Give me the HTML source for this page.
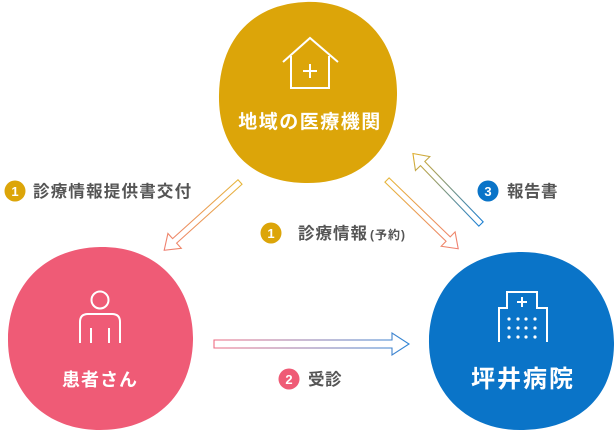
<!DOCTYPE html>
<html><head><meta charset="utf-8"><style>
html,body{margin:0;padding:0;background:#fff;}
body{width:615px;height:430px;overflow:hidden;position:relative;font-family:"Liberation Sans","Noto Sans CJK JP",sans-serif;}
svg{position:absolute;left:0;top:0;}
</style></head><body>
<svg width="615" height="430" viewBox="0 0 615 430" xmlns="http://www.w3.org/2000/svg">
<defs>
<linearGradient id="go" x1="0" y1="0" x2="1" y2="0"><stop offset="0" stop-color="#e6b53a"/><stop offset="1" stop-color="#ef7f72"/></linearGradient>
<linearGradient id="pb" x1="0" y1="0" x2="1" y2="0"><stop offset="0" stop-color="#ee6b82"/><stop offset="1" stop-color="#2f86d6"/></linearGradient>
<linearGradient id="bg" x1="0" y1="0" x2="1" y2="0"><stop offset="0" stop-color="#1b7fd2"/><stop offset="1" stop-color="#e0ae2c"/></linearGradient>
</defs>
<path d="M306,2 C360,0 398,40 397,95 C396,150 360,184 305,183 C250,182 218,148 219,95 C220,40 252,4 306,2Z" fill="#dca509"/>
<path d="M100,247 C160,246 194,290 193,340 C192,395 155,430 100,430 C45,430 7,392 8,338 C9,285 45,248 100,247Z" fill="#ef5b76"/>
<path d="M522,252 C580,252 615,295 614,345 C613,400 575,430 520,430 C465,430 428,390 429,340 C430,288 465,252 522,252Z" fill="#0a74c8"/>
<g fill="none" stroke="#fff" stroke-width="2">
<polyline points="283,62 310,38 338,62"/>
<polyline points="291,56 291,88 329,88 329,56"/>
<line x1="310" y1="64" x2="310" y2="78"/><line x1="303" y1="71" x2="317" y2="71"/>
</g>
<g fill="none" stroke="#fff" stroke-width="2">
<circle cx="100" cy="300" r="8.5"/>
<path d="M80,343 V322 Q80,314 88,314 H112 Q120,314 120,322 V343"/>
<line x1="91" y1="328" x2="91" y2="343"/><line x1="109" y1="328" x2="109" y2="343"/>
</g>
<g fill="none" stroke="#fff" stroke-width="2">
<path d="M499,342 V308 H507 V292 H537 V308 H547 V342"/>
<line x1="522" y1="297" x2="522" y2="307"/><line x1="517" y1="302" x2="527" y2="302"/>
</g>
<g fill="#fff">
<circle cx="509" cy="319" r="1.6"/><circle cx="518" cy="319" r="1.6"/><circle cx="526" cy="319" r="1.6"/><circle cx="535" cy="319" r="1.6"/>
<circle cx="509" cy="328" r="1.6"/><circle cx="518" cy="328" r="1.6"/><circle cx="526" cy="328" r="1.6"/><circle cx="535" cy="328" r="1.6"/>
<circle cx="509" cy="337" r="1.6"/><circle cx="518" cy="337" r="1.6"/><circle cx="526" cy="337" r="1.6"/><circle cx="535" cy="337" r="1.6"/>
</g>
<text x="310" y="128" fill="#fff" font-size="19" font-weight="bold" text-anchor="middle" letter-spacing="1.5">地域の医療機関</text>
<text x="100" y="386" fill="#fff" font-size="18" font-weight="bold" text-anchor="middle" letter-spacing="1">患者さん</text>
<text x="523" y="387" fill="#fff" font-size="24" font-weight="bold" text-anchor="middle" letter-spacing="2">坪井病院</text>
<g fill="none" stroke-width="1.1">
<polygon transform="translate(240,182) rotate(138)" points="0,-3 88,-3 88,-10 102,0 88,10 88,3 0,3" stroke="url(#go)"/>
<polygon transform="translate(387,180) rotate(44)" points="0,-3 85,-3 85,-10 99,0 85,10 85,3 0,3" stroke="url(#go)"/>
<polygon transform="translate(481,224) rotate(-134)" points="0,-3 84,-3 84,-10 98,0 84,10 84,3 0,3" stroke="url(#bg)"/>
<polygon points="214,340 392,340 392,333 409,344 392,355 392,348 214,348" stroke="url(#pb)"/>
</g>
<circle cx="15" cy="191" r="10.5" fill="#dca509"/><text x="15" y="196" fill="#fff" font-size="13" font-weight="bold" text-anchor="middle">1</text>
<text x="33" y="197" fill="#555" font-size="16.5" font-weight="bold" letter-spacing="1.2">診療情報提供書交付</text>
<circle cx="271" cy="233" r="10.5" fill="#dca509"/><text x="271" y="238" fill="#fff" font-size="13" font-weight="bold" text-anchor="middle">1</text>
<text x="298" y="239" fill="#555" font-size="16.5" font-weight="bold" letter-spacing="1">診療情報<tspan font-size="12" dx="2">(予約)</tspan></text>
<circle cx="488" cy="191" r="10.5" fill="#0a74c8"/><text x="488" y="196" fill="#fff" font-size="13" font-weight="bold" text-anchor="middle">3</text>
<text x="507" y="197" fill="#555" font-size="16.5" font-weight="bold" letter-spacing="0.5">報告書</text>
<circle cx="289" cy="379" r="10.5" fill="#ef5b76"/><text x="289" y="384" fill="#fff" font-size="13" font-weight="bold" text-anchor="middle">2</text>
<text x="308" y="385" fill="#555" font-size="16.5" font-weight="bold" letter-spacing="0.5">受診</text>
</svg>
</body></html>
